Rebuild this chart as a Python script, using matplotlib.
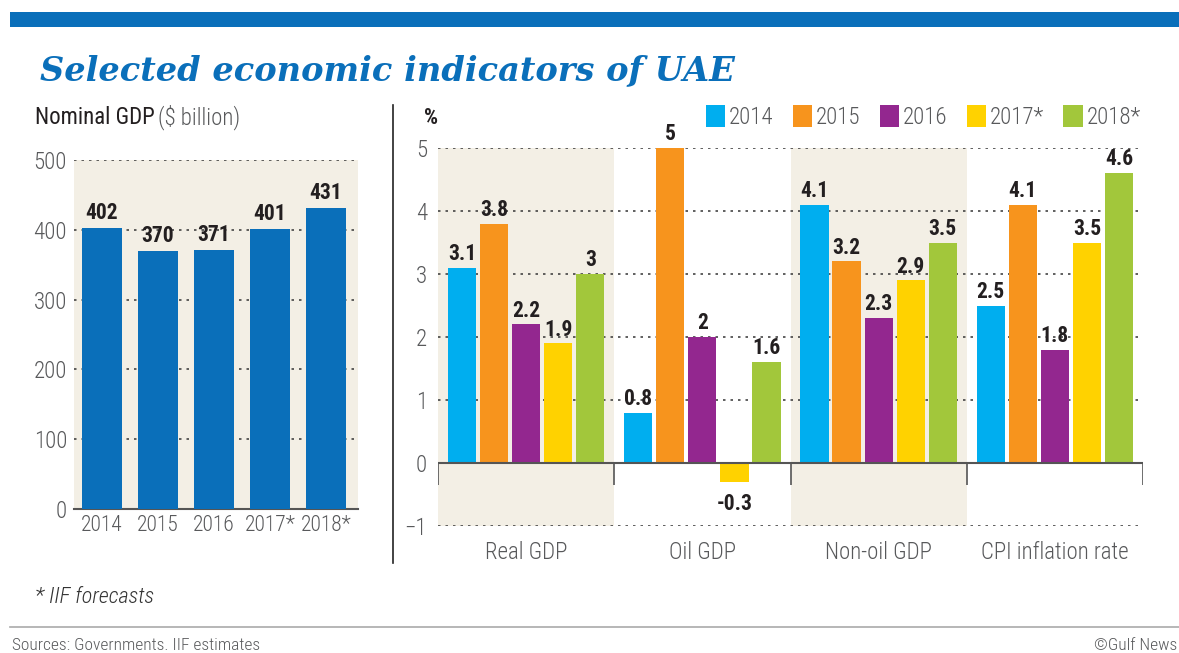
import matplotlib
matplotlib.use('Agg')
import matplotlib.pyplot as plt
from matplotlib.patches import Rectangle
from matplotlib.lines import Line2D
import numpy as np

# ---- data ----
gdp_years = ['2014', '2015', '2016', '2017*', '2018*']
gdp_values = [402, 370, 371, 401, 431]

groups = ['Real GDP', 'Oil GDP', 'Non-oil GDP', 'CPI inflation rate']
series_names = ['2014', '2015', '2016', '2017*', '2018*']
s2014 = [3.1, 0.8, 4.1, 2.5]
s2015 = [3.8, 5, 3.2, 4.1]
s2016 = [2.2, 2, 2.3, 1.8]
s2017 = [1.9, -0.3, 2.9, 3.5]
s2018 = [3, 1.6, 3.5, 4.6]
series = [s2014, s2015, s2016, s2017, s2018]
colors = ['#00aeef', '#f7941d', '#93278f', '#ffd200', '#a2c73b']

BLUE = '#0a6fba'
BEIGE = '#f3efe5'
DARK = '#231f20'
GRAY = '#58595b'
COND = ['Roboto Condensed', 'Liberation Sans Narrow', 'Roboto', 'DejaVu Sans']
plt.rcParams['font.family'] = COND

W, H = 1179, 653
fig = plt.figure(figsize=(W / 100, H / 100), dpi=100)
fig.patch.set_facecolor('white')

def fx(px):
    return px / W

def fy(py):
    return 1 - py / H

# top band
fig.add_artist(Rectangle((fx(10), fy(27)), 1 - fx(10), (27 - 12) / H,
                         transform=fig.transFigure, color=BLUE, lw=0))
fig.text(fx(40), fy(80), 'Selected economic indicators of UAE', family='DejaVu Serif',
         fontweight='bold', style='italic', fontsize=24.2, color=BLUE, va='baseline')

# ---- left chart ----
ax1 = fig.add_axes([fx(74), fy(509), fx(358) - fx(74), (509 - 160) / H])
ax1.set_facecolor(BEIGE)
x1 = np.arange(len(gdp_years))
bars1 = ax1.bar(x1, gdp_values, width=0.71, color=BLUE, zorder=3)
ax1.set_xlim(-0.5, 4.57)
ax1.set_ylim(0, 500)
ax1.set_yticks([0, 100, 200, 300, 400, 500])
ax1.yaxis.grid(True, linestyle=(0, (1.5, 3)), color='#444444', lw=1.2, zorder=1)
for s in ['top', 'right', 'left']:
    ax1.spines[s].set_visible(False)
ax1.spines['bottom'].set_color('#555555')
ax1.spines['bottom'].set_linewidth(1.5)
ax1.set_xticks(x1)
ax1.set_xticklabels(gdp_years)
ax1.tick_params(length=0, labelsize=16.5, labelcolor=GRAY, pad=4)
ax1.tick_params(axis='x', labelsize=15.5)
ax1.tick_params(axis='y', pad=5)
for lab in ax1.get_xticklabels() + ax1.get_yticklabels():
    lab.set_fontweight('light')
for b, v in zip(bars1, gdp_values):
    ax1.annotate(str(v), (b.get_x() + b.get_width() / 2, v), xytext=(0, 3),
                 textcoords='offset points', ha='center', va='bottom',
                 fontsize=15.5, fontweight='bold', color=DARK, zorder=5)

fig.text(fx(35), fy(124), 'Nominal GDP', fontsize=16.5, color=DARK, va='baseline')
fig.text(fx(158), fy(124), '($ billion)', fontsize=16.5, color=GRAY, va='baseline',
         fontweight='light')

# separator
fig.add_artist(Line2D([fx(393), fx(393)], [fy(105), fy(563)],
                      transform=fig.transFigure, color='#222222', lw=1.2))

# ---- right chart ----
ax2 = fig.add_axes([fx(438), fy(526), fx(1143) - fx(438), (526 - 148) / H])
ax2.set_facecolor('white')
ax2.set_xlim(-0.5, 3.5)
ax2.set_ylim(-1, 5)
ax2.axvspan(-0.5, 0.5, color=BEIGE, lw=0, zorder=0)
ax2.axvspan(1.5, 2.5, color=BEIGE, lw=0, zorder=0)
ax2.set_yticks([-1, 0, 1, 2, 3, 4, 5])
ax2.yaxis.grid(True, linestyle=(0, (1.5, 3)), color='#444444', lw=1.2, zorder=1)
for s in ax2.spines.values():
    s.set_visible(False)
ax2.axhline(0, color='#555555', lw=1.5, zorder=4)
ax2.vlines(np.arange(-0.5, 4, 1), -0.35, 0, color='#555555', lw=1.2, zorder=4)
xg = np.arange(len(groups))
pitch = 0.182
handles = []
for i, (vals, c, name) in enumerate(zip(series, colors, series_names)):
    xs = xg + (i - 2) * pitch
    bs = ax2.bar(xs, vals, width=0.16, color=c, zorder=3, label=name)
    handles.append(bs)
    for xx, v in zip(xs, vals):
        if v >= 0:
            ax2.annotate(f'{v:g}', (xx, v), xytext=(0, 2), textcoords='offset points',
                         ha='center', va='bottom', fontsize=15.5, fontweight='bold',
                         color=DARK, zorder=5, annotation_clip=False)
        else:
            ax2.annotate(f'{v:g}', (xx, v), xytext=(0, -8), textcoords='offset points',
                         ha='center', va='top', fontsize=15.5, fontweight='bold',
                         color=DARK, zorder=5, annotation_clip=False)
ax2.set_xticks(xg)
ax2.set_xticklabels(groups)
ax2.tick_params(length=0, labelsize=16.5, labelcolor=GRAY)
ax2.tick_params(axis='x', pad=11)
ax2.tick_params(axis='y', pad=8)
for lab in ax2.get_xticklabels() + ax2.get_yticklabels():
    lab.set_fontweight('light')

fig.text(fx(424), fy(124), '%', fontsize=16, color=DARK, va='baseline', fontweight='bold')
leg = fig.legend(handles=handles, loc='center right', bbox_to_anchor=(fx(1152), fy(117)),
                 ncol=5, frameon=False, fontsize=16.5, handlelength=0.85, handleheight=1.05,
                 handletextpad=0.15, columnspacing=0.85, borderpad=0, labelcolor=GRAY)
for t in leg.get_texts():
    t.set_fontweight('light')

# ---- footer ----
fig.text(fx(35), fy(603), '* IIF forecasts', fontsize=16, style='italic', color='#333333',
         va='baseline', fontweight='light')
fig.add_artist(Line2D([fx(10), 1], [fy(627), fy(627)], transform=fig.transFigure,
                      color='#aaaaaa', lw=1.2))
fig.text(fx(12), fy(650), 'Sources: Governments. IIF estimates', fontsize=12.5, color=GRAY,
         va='baseline', fontweight='light')
fig.text(fx(1177), fy(650), '\u00a9Gulf News', fontsize=12.5, color=GRAY, va='baseline',
         ha='right', fontweight='light')

fig.savefig('out.png', dpi=100)
